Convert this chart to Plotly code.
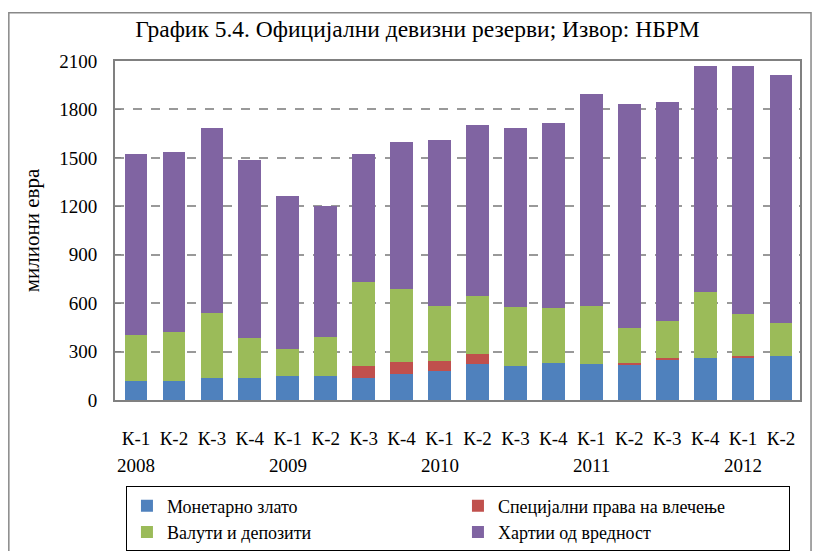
import plotly.graph_objects as go

# квартали и години
quarters = ["К-1", "К-2", "К-3", "К-4", "К-1", "К-2", "К-3", "К-4", "К-1",
            "К-2", "К-3", "К-4", "К-1", "К-2", "К-3", "К-4", "К-1", "К-2"]
years = ["2008", "2009", "2010", "2011", "2012"]
year_pos = [0, 4, 8, 12, 16]  # индекс на кварталот под кој стои годината

# вредности (милиони евра), читани од графиконот
gold = [120, 120, 135, 135, 148, 148, 139, 164, 177, 223, 208, 227, 221, 221, 252, 260, 264, 270]
sdr = [0, 0, 0, 0, 0, 0, 69, 69, 63, 61, 0, 0, 0, 6, 8, 0, 6, 0]
currency = [280, 300, 405, 248, 167, 242, 520, 457, 343, 362, 369, 343, 362, 219, 231, 410, 264, 208]
total = [1521, 1539, 1683, 1489, 1265, 1203, 1521, 1596, 1608, 1702, 1683, 1715, 1896, 1833, 1845, 2069, 2069, 2015]
securities = [t - g - s - c for t, g, s, c in zip(total, gold, sdr, currency)]

names = ["Монетарно злато", "Специјални права на влечење", "Валути и депозити", "Хартии од вредност"]
colors = ["#4F81BD", "#C0504D", "#9BBB59", "#8064A2"]

# уникатни категории за x оската
x_idx = [f"{q}|{i}" for i, q in enumerate(quarters)]

serif = "Liberation Serif"

fig = go.Figure()
for name, vals, col in zip(names, [gold, sdr, currency, securities], colors):
    fig.add_trace(go.Bar(x=x_idx, y=vals, name=name, marker_color=col, marker_line_width=0))

for yr, pos in zip(years, year_pos):
    fig.add_annotation(x=x_idx[pos], y=-0.193, xref="x", yref="paper", text=yr,
                       showarrow=False, font=dict(family=serif, size=19, color="black"),
                       yanchor="middle")

# рамка околу целиот графикон
fig.add_shape(type="rect", xref="paper", yref="paper",
              x0=-0.155, x1=1.0161, y0=-0.7, y1=1.142,
              line=dict(color="#888888", width=1.5), layer="below")

fig.update_layout(
    width=817, height=551,
    margin=dict(l=115, r=17, t=61, b=151, autoexpand=False),
    barmode="stack", bargap=0.4,
    plot_bgcolor="white", paper_bgcolor="white",
    title=dict(text="График 5.4. Официјални девизни резерви; Извор: НБРМ",
               x=0.511, xanchor="center", y=0.947, yanchor="middle",
               font=dict(family=serif, size=23.5, color="black")),
    font=dict(family=serif, color="black"),
    legend=dict(orientation="h", x=0.016, xanchor="left", y=-0.255, yanchor="top",
                entrywidth=286, entrywidthmode="pixels",
                bordercolor="black", borderwidth=1,
                font=dict(family=serif, size=18, color="black"),
                traceorder="normal", itemwidth=30),
    xaxis=dict(tickmode="array", tickvals=x_idx, ticktext=quarters,
               tickfont=dict(family=serif, size=19), ticklabelstandoff=20,
               showline=True, linecolor="#808080", linewidth=2, mirror=True,
               showgrid=False, ticks=""),
    yaxis=dict(range=[0, 2100], tickvals=[0, 300, 600, 900, 1200, 1500, 1800, 2100],
               tickfont=dict(family=serif, size=19), ticklabelstandoff=12,
               showline=True, linecolor="#808080", linewidth=2, mirror=True,
               ticks="inside", ticklen=6, tickcolor="#808080",
               showgrid=True, gridcolor="#999999", griddash="dash", gridwidth=1.5,
               title=dict(text="милиони евра", font=dict(family=serif, size=21),
                          standoff=14)),
)

# без маргина на страницата, графиконот почнува од горниот лев агол
fig.write_html("out.html", config={"displayModeBar": False},
               post_script="document.body.style.margin='0';")
